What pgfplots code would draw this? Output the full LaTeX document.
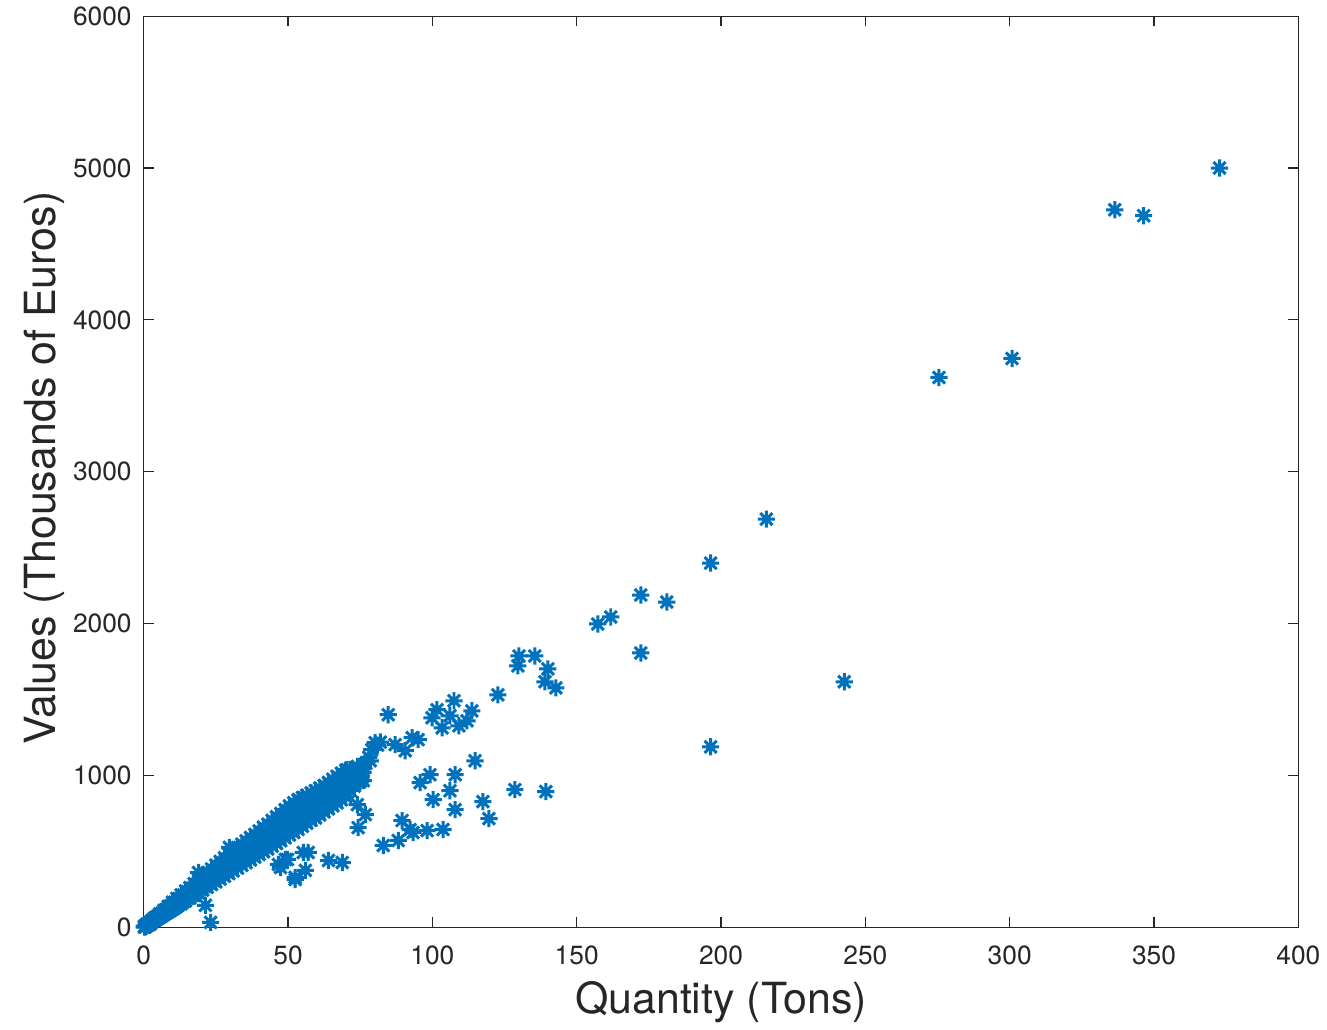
\documentclass[border=0pt]{standalone}
\usepackage{pgfplots}
\pgfplotsset{compat=1.18}
\usepackage{fontspec}
\setmainfont{TeX Gyre Heros}
\definecolor{mblue}{RGB}{0,114,189}
\definecolor{axgray}{RGB}{38,38,38}
\pgfdeclareplotmark{ast8}{%
  \pgfpathmoveto{\pgfqpoint{0pt}{\pgfplotmarksize}}%
  \pgfpathlineto{\pgfqpoint{0pt}{-\pgfplotmarksize}}%
  \pgfpathmoveto{\pgfqpoint{\pgfplotmarksize}{0pt}}%
  \pgfpathlineto{\pgfqpoint{-\pgfplotmarksize}{0pt}}%
  \pgfpathmoveto{\pgfqpoint{0.7071\pgfplotmarksize}{0.7071\pgfplotmarksize}}%
  \pgfpathlineto{\pgfqpoint{-0.7071\pgfplotmarksize}{-0.7071\pgfplotmarksize}}%
  \pgfpathmoveto{\pgfqpoint{-0.7071\pgfplotmarksize}{0.7071\pgfplotmarksize}}%
  \pgfpathlineto{\pgfqpoint{0.7071\pgfplotmarksize}{-0.7071\pgfplotmarksize}}%
  \pgfusepathqstroke}
\pgfplotstableread{
x y
0.2 2
0.5 5
0.8 10
1 12
1.2 15
1.5 18
1.8 22
2 25
2.3 28
2.5 30
3 38
3.5 45
4 52
4.5 60
5 65
6 78
7 90
8 105
9 118
10 130
0.3 8
0.6 3
1.1 20
2.1 18
1 10
1 14
1 18
2.5 35
2.5 40
4 48
4 56
4 64
5.5 66
5.5 78
5.5 88
7 84
7 98
7 112
8.5 102
8.5 120
8.5 138
10 120
10 142
10 165
11.5 138
11.5 165
11.5 190
13 156
13 185
13 214
14.5 174
14.5 208
14.5 240
16 192
16 228
16 262
17.5 210
17.5 250
17.5 288
19 228
19 272
19 312
20.5 246
20.5 292
20.5 336
22 264
22 315
22 360
23.5 282
23.5 335
23.5 385
25 300
25 358
25 410
26.5 318
26.5 380
26.5 435
28 336
28 400
28 458
29.5 354
29.5 422
29.5 482
31 372
31 445
31 505
32.5 390
32.5 465
32.5 525
34 408
34 488
34 548
35.5 426
35.5 508
35.5 570
37 444
37 530
37 592
38.5 462
38.5 550
38.5 612
40 480
40 570
40 635
41.5 498
41.5 592
41.5 660
43 516
43 612
43 680
44.5 534
44.5 635
44.5 705
46 552
46 655
46 728
47.5 570
47.5 678
47.5 750
49 590
49 700
49 775
50.5 608
50.5 720
50.5 800
52 625
52 740
52 820
53.5 645
53.5 762
53.5 840
55 665
55 782
55 855
56.5 685
56.5 800
56.5 870
58 705
58 820
58 885
59.5 720
59.5 840
59.5 900
61 740
61 860
61 918
62.5 760
62.5 880
62.5 935
64 780
64 900
64 955
65.5 800
65.5 920
65.5 975
67 820
67 940
67 995
68.5 840
68.5 960
68.5 1015
70 860
70 980
70 1035
71.5 900
71.5 1000
71.5 1040
73 930
73 1020
75 960
75 1040
77 1080
78 1120
79 1170
81 1200
1.75 22
1.75 27
3.25 42
3.25 52
4.75 57
4.75 72
6.25 75
6.25 93
7.75 93
7.75 118
9.25 111
9.25 142
10.75 129
10.75 165
12.25 150
12.25 190
13.75 170
13.75 212
15.25 191
15.25 235
16.75 210
16.75 258
18.25 230
18.25 280
19.75 250
19.75 303
21.25 269
21.25 325
22.75 290
22.75 348
24.25 309
24.25 370
25.75 329
25.75 395
27.25 349
27.25 417
28.75 368
28.75 440
30.25 389
30.25 463
31.75 408
31.75 485
33.25 428
33.25 506
34.75 448
34.75 528
36.25 467
36.25 550
37.75 487
37.75 570
39.25 506
39.25 593
40.75 525
40.75 615
42.25 545
42.25 636
43.75 564
43.75 658
45.25 585
45.25 680
46.75 604
46.75 702
48.25 624
48.25 725
49.75 645
49.75 748
51.25 664
51.25 770
52.75 683
52.75 790
54.25 703
54.25 812
55.75 724
55.75 830
57.25 743
57.25 848
58.75 762
58.75 862
60.25 780
60.25 880
61.75 800
61.75 898
63.25 820
63.25 918
64.75 840
64.75 938
66.25 860
66.25 958
67.75 880
67.75 978
69.25 900
69.25 998
70.75 930
70.75 1010
72.25 960
72.25 1030
74 990
74 1060
76 1020
76 1070
19 361
21.4 145
23.2 33
29.7 526
46.7 414
47.4 394
49.1 447
49.8 447
52.5 315
52.5 329
53.6 841
53.9 835
55.3 493
56 375
57 493
64 440
68.8 427
70.5 1038
73.3 1005
74 808
74.3 657
76.1 966
76.8 743
78.5 1097
80.2 1216
82 1220
83 539
84.7 1400
87.1 1203
88.2 572
89.5 703
90.6 1163
92.3 644
93 1249
93.3 624
95.1 1236
95.8 953
98.2 637
99.2 1005
99.9 1380
100.3 841
101.6 1433
103.4 1314
103.7 644
106.1 1393
106.1 900
107.5 1492
107.9 1005
107.9 775
109.2 1327
112 1360
113.7 1426
114.8 1097
117.5 828
119.6 716
122.7 1531
128.6 907
129.6 1722
130 1787
135.5 1787
139 1617
139.3 894
140 1702
142.8 1577
157.3 1998
161.8 2044
172.2 2188
172.2 1807
181.2 2142
196.4 2399
196.4 1189
215.7 2688
242.7 1617
275.5 3621
300.8 3746
336.4 4725
346.4 4686
372.7 5000
}\datatable
\begin{document}
\begin{tikzpicture}
\begin{axis}[
  scale only axis,
  width=578.5pt, height=456.5pt,
  xmin=0, xmax=400, ymin=0, ymax=6000,
  xtick={0,50,...,400}, ytick={0,1000,...,6000},
  tick align=inside,
  major tick length=5pt,
  axis line style={axgray, line width=0.6pt},
  tick style={axgray, line width=0.6pt},
  ticklabel style={font=\fontsize{13.2}{15}\selectfont, text=axgray},
  /pgf/number format/assume math mode=true,
  scaled ticks=false,
  y tick label style={/pgf/number format/1000 sep={}, xshift=-2.5pt},
  x tick label style={/pgf/number format/1000 sep={}, yshift=-5.5pt},
  xlabel={Quantity (Tons)}, ylabel={Values (Thousands of Euros)},
  label style={font=\fontsize{21.5}{25}\selectfont, text=axgray},
  xlabel style={at={(axis description cs:0.5,0)}, anchor=center, yshift=-37.5pt},
  ylabel style={at={(axis description cs:0,0.504)}, anchor=center, yshift=50pt},
]
\addplot[only marks, mark=ast8, mark size=4.3pt, mblue, mark options={line width=1.5pt}] table[x=x,y=y]{\datatable};
\end{axis}
\path (current bounding box.west) ++(-8.5pt,0) coordinate (padL);
\path (padL) circle (0pt);
\end{tikzpicture}
\end{document}
